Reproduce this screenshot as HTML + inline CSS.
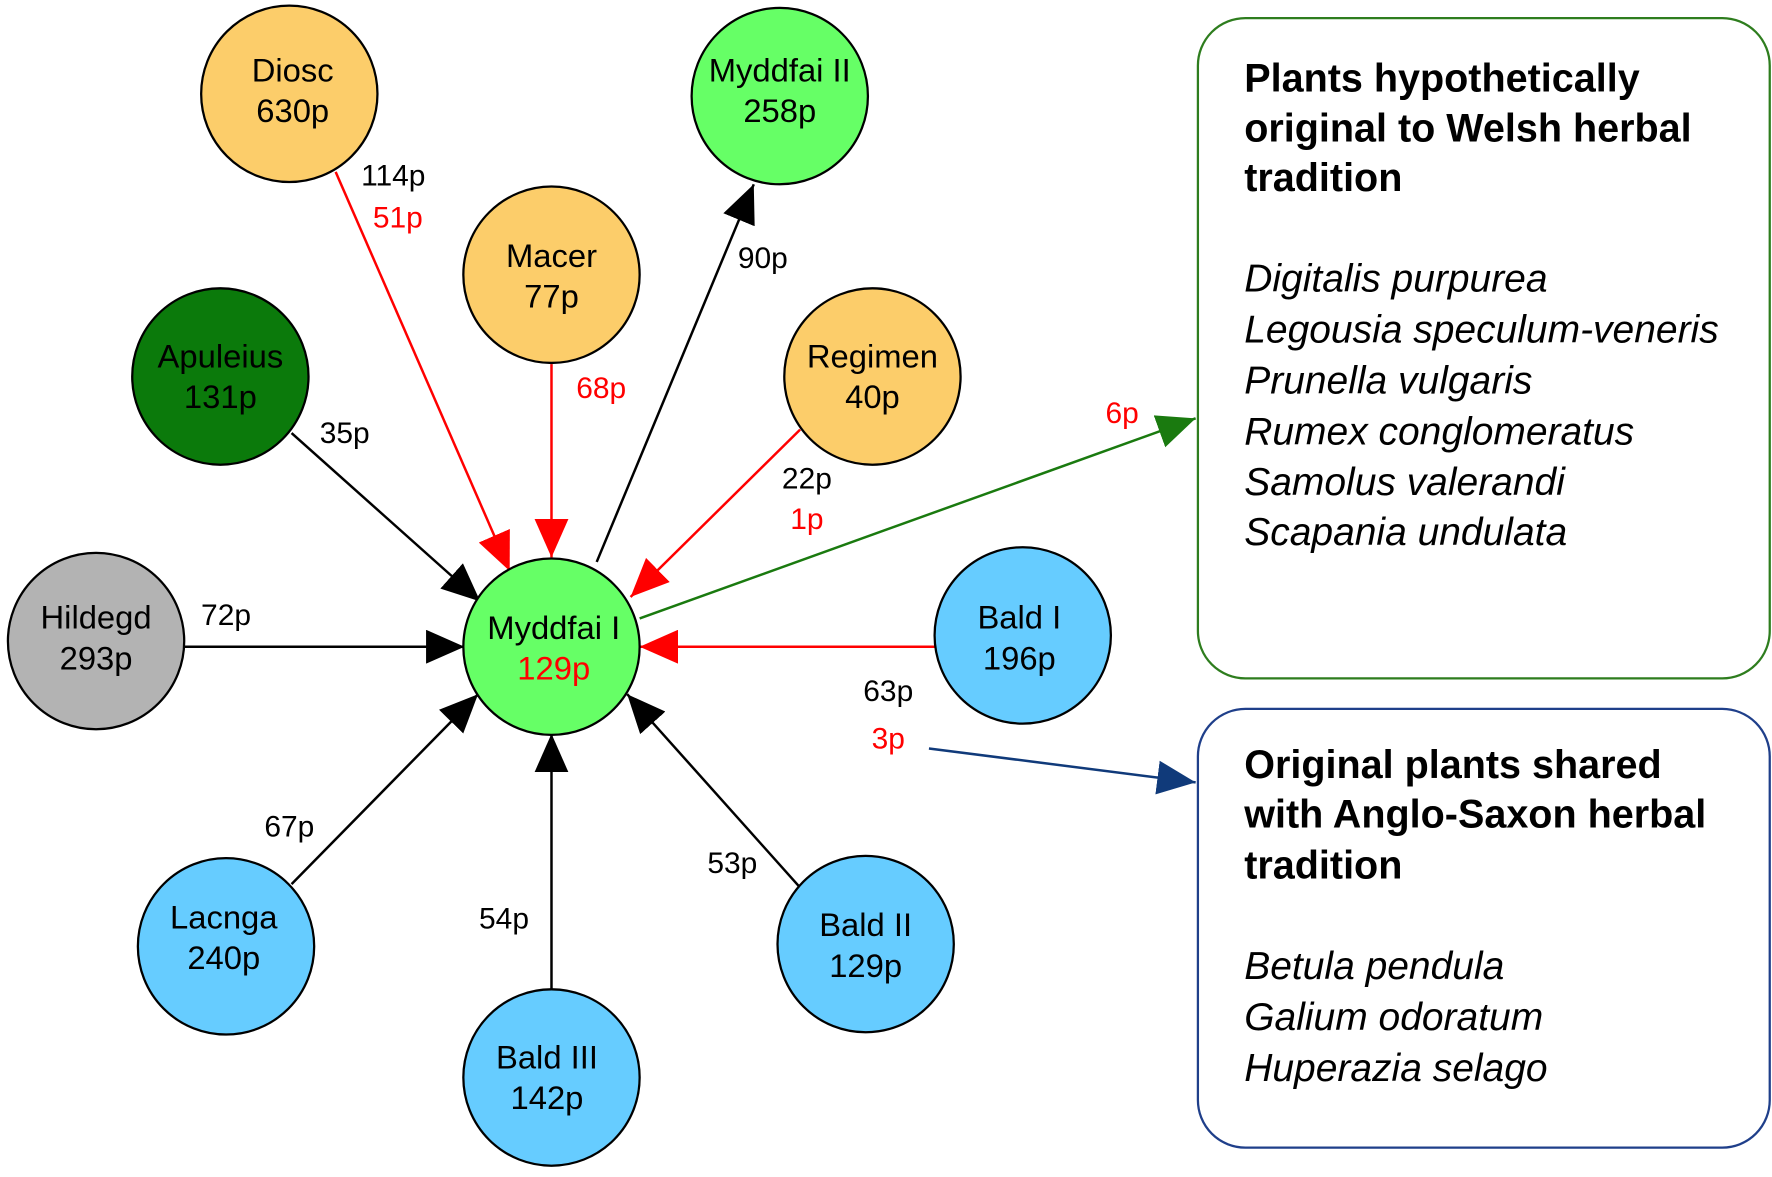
<!DOCTYPE html>
<html><head><meta charset="utf-8"><style>
html,body{margin:0;padding:0;background:#fff;}
svg{display:block;}
text{font-family:"Liberation Sans",Arial,sans-serif;}
.n{font-size:29px;text-anchor:middle;fill:#000;}
.l{font-size:26.5px;text-anchor:middle;fill:#000;}
.r{fill:#f00;}
.t{font-size:35px;font-weight:bold;}
.i{font-size:34.5px;font-style:italic;}
</style></head><body>
<svg width="1772" height="1177" viewBox="0 0 1568 1041" preserveAspectRatio="none" xmlns="http://www.w3.org/2000/svg">
<defs>
<marker id="ab" markerUnits="userSpaceOnUse" markerWidth="34" markerHeight="30" refX="34" refY="15" orient="auto"><path d="M0,0 L34,15 L0,30 z" fill="#000"/></marker>
<marker id="ar" markerUnits="userSpaceOnUse" markerWidth="34" markerHeight="30" refX="34" refY="15" orient="auto"><path d="M0,0 L34,15 L0,30 z" fill="#f00"/></marker>
<marker id="ag" markerUnits="userSpaceOnUse" markerWidth="34" markerHeight="30" refX="34" refY="15" orient="auto"><path d="M0,0 L34,15 L0,30 z" fill="#1a7a0f"/></marker>
<marker id="an" markerUnits="userSpaceOnUse" markerWidth="34" markerHeight="30" refX="34" refY="15" orient="auto"><path d="M0,0 L34,15 L0,30 z" fill="#103a7a"/></marker>
</defs>
<g stroke-width="2.2" fill="none">
<line x1="297" y1="152" x2="451" y2="505" stroke="#f00" marker-end="url(#ar)"/>
<line x1="488" y1="322" x2="488" y2="493" stroke="#f00" marker-end="url(#ar)"/>
<line x1="528" y1="497" x2="667" y2="163" stroke="#000" marker-end="url(#ab)"/>
<line x1="708" y1="380" x2="558" y2="528" stroke="#f00" marker-end="url(#ar)"/>
<line x1="258" y1="383" x2="425" y2="532" stroke="#000" marker-end="url(#ab)"/>
<line x1="163" y1="572" x2="411" y2="572" stroke="#000" marker-end="url(#ab)"/>
<line x1="827" y1="572" x2="566" y2="572" stroke="#f00" marker-end="url(#ar)"/>
<line x1="258" y1="782" x2="423" y2="614" stroke="#000" marker-end="url(#ab)"/>
<line x1="488" y1="875" x2="488" y2="649" stroke="#000" marker-end="url(#ab)"/>
<line x1="708" y1="785" x2="555" y2="614" stroke="#000" marker-end="url(#ab)"/>
<line x1="566" y1="547" x2="1058" y2="370" stroke="#1a7a0f" marker-end="url(#ag)"/>
<line x1="822" y1="662" x2="1058" y2="692" stroke="#103a7a" marker-end="url(#an)"/>
</g>
<g stroke="#000" stroke-width="2">
<circle cx="256" cy="83" r="78" fill="#FCCD6A"/>
<circle cx="690" cy="85" r="78" fill="#66FF66"/>
<circle cx="488" cy="243" r="78" fill="#FCCD6A"/>
<circle cx="195" cy="333" r="78" fill="#0B7A0B"/>
<circle cx="772" cy="333" r="78" fill="#FCCD6A"/>
<circle cx="85" cy="567" r="78" fill="#B3B3B3"/>
<circle cx="488" cy="572" r="78" fill="#66FF66"/>
<circle cx="905" cy="562" r="78" fill="#66CCFF"/>
<circle cx="200" cy="837" r="78" fill="#66CCFF"/>
<circle cx="488" cy="953" r="78" fill="#66CCFF"/>
<circle cx="766" cy="835" r="78" fill="#66CCFF"/>
</g>
<text class="n" x="259" y="72">Diosc</text><text class="n" x="259" y="108">630p</text>
<text class="n" x="690" y="72">Myddfai II</text><text class="n" x="690" y="108">258p</text>
<text class="n" x="488" y="236">Macer</text><text class="n" x="488" y="272">77p</text>
<text class="n" x="195" y="325">Apuleius</text><text class="n" x="195" y="361">131p</text>
<text class="n" x="772" y="325">Regimen</text><text class="n" x="772" y="361">40p</text>
<text class="n" x="85" y="556">Hildegd</text><text class="n" x="85" y="592">293p</text>
<text class="n" x="490" y="565">Myddfai I</text><text class="n r" x="490" y="601">129p</text>
<text class="n" x="902" y="556">Bald I</text><text class="n" x="902" y="592">196p</text>
<text class="n" x="198" y="821">Lacnga</text><text class="n" x="198" y="857">240p</text>
<text class="n" x="484" y="945">Bald III</text><text class="n" x="484" y="981">142p</text>
<text class="n" x="766" y="828">Bald II</text><text class="n" x="766" y="864">129p</text>
<text class="l" x="348" y="164">114p</text><text class="l r" x="352" y="201">51p</text>
<text class="l r" x="532" y="352">68p</text>
<text class="l" x="675" y="237">90p</text>
<text class="l" x="305" y="392">35p</text>
<text class="l" x="714" y="432">22p</text><text class="l r" x="714" y="468">1p</text>
<text class="l r" x="993" y="374">6p</text>
<text class="l" x="200" y="553">72p</text>
<text class="l" x="786" y="620">63p</text><text class="l r" x="786" y="662">3p</text>
<text class="l" x="256" y="740">67p</text>
<text class="l" x="446" y="821">54p</text>
<text class="l" x="648" y="772">53p</text>
<rect x="1060" y="16" width="506" height="584" rx="42" fill="#fff" stroke="#2E7D1E" stroke-width="2"/>
<rect x="1060" y="627" width="506" height="388" rx="42" fill="#fff" stroke="#1F3F8A" stroke-width="2"/>
<text class="t" x="1101" y="81">Plants hypothetically</text>
<text class="t" x="1101" y="125">original to Welsh herbal</text>
<text class="t" x="1101" y="169">tradition</text>
<text class="i" x="1101" y="258">Digitalis purpurea</text>
<text class="i" x="1101" y="303">Legousia speculum-veneris</text>
<text class="i" x="1101" y="348">Prunella vulgaris</text>
<text class="i" x="1101" y="393">Rumex conglomeratus</text>
<text class="i" x="1101" y="438">Samolus valerandi</text>
<text class="i" x="1101" y="482">Scapania undulata</text>
<text class="t" x="1101" y="688">Original plants shared</text>
<text class="t" x="1101" y="732">with Anglo-Saxon herbal</text>
<text class="t" x="1101" y="777">tradition</text>
<text class="i" x="1101" y="866">Betula pendula</text>
<text class="i" x="1101" y="911">Galium odoratum</text>
<text class="i" x="1101" y="956">Huperazia selago</text>
</svg>
</body></html>
